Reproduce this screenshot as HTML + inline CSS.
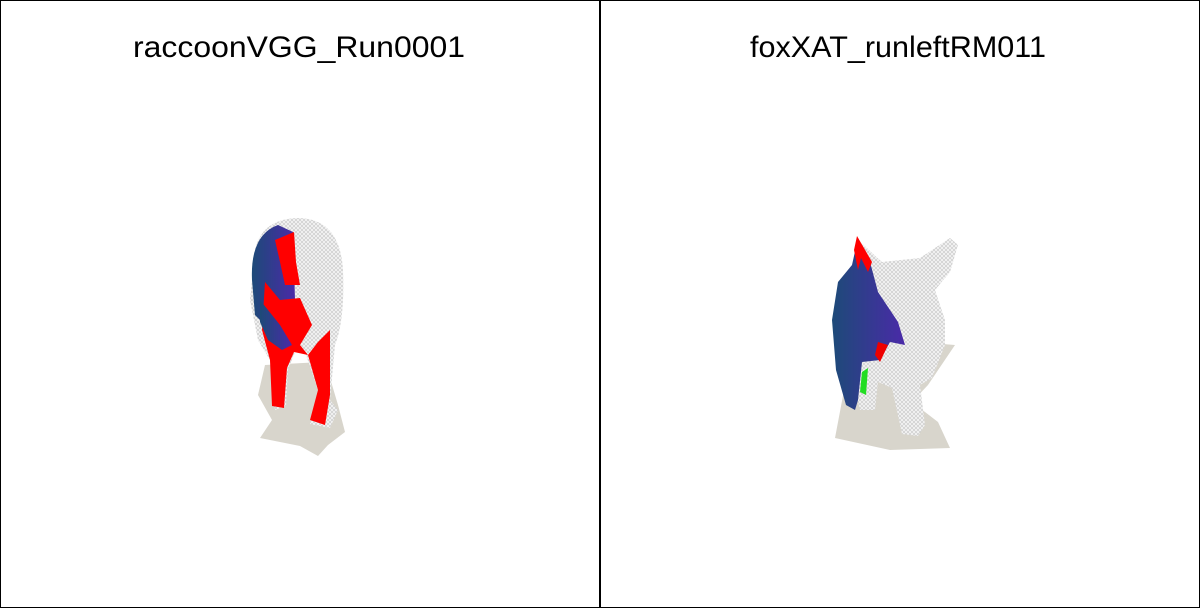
<!DOCTYPE html>
<html><head><meta charset="utf-8"><style>
body{margin:0;background:#fff}
svg{display:block}
text{font-family:"Liberation Sans",sans-serif;font-size:30px;fill:#000}
</style></head><body>
<svg width="1200" height="608" viewBox="0 0 1200 608">
<defs>
<pattern id="mesh" width="4" height="4" patternUnits="userSpaceOnUse"><rect width="4" height="4" fill="#f0f0f0"/><path d="M0 0L4 4M4 0L0 4" stroke="#bbb" stroke-width="0.5"/></pattern>
<linearGradient id="blue" x1="0" x2="1"><stop offset="0" stop-color="#1d4a78"/><stop offset="1" stop-color="#4a2aa8"/></linearGradient>
</defs>
<rect x="0.5" y="0.5" width="1199" height="607" fill="#fff" stroke="#000"/>
<line x1="600" y1="0" x2="600" y2="608" stroke="#000" stroke-width="2"/>
<g>
<text x="133" y="57" textLength="332" lengthAdjust="spacingAndGlyphs">raccoonVGG_Run0001</text>
<path d="M265 365 L258 395 L272 420 L260 438 L300 446 L318 456 L328 445 L345 432 L338 405 L330 378 L322 362Z" fill="#d8d5cc"/>
<path d="M255 250 Q262 218 300 218 Q340 220 343 270 Q345 320 335 345 L330 400 L338 410 L330 428 L310 424 L318 390 L305 352 L295 352 L288 370 L286 406 L275 410 L270 360 L258 340 L250 300Z" fill="url(#mesh)"/>
<path d="M252 280 Q250 235 278 225 L293 232 L295 300 L290 330 L270 330 L255 315Z" fill="url(#blue)"/>
<path d="M275 240 L294 232 L296 262 L300 285 L285 285 L280 262Z" fill="#f00"/>
<path d="M265 282 L280 300 L300 298 L312 325 L300 345 L308 355 L318 342 L330 330 L330 395 L325 425 L310 420 L318 390 L308 355 L294 352 L287 368 L284 408 L272 406 L270 360 L262 330Z" fill="#f00"/>
<path d="M260 300 L268 310 L280 325 L292 345 L282 350 L268 340 L260 322Z" fill="url(#blue)"/>
</g>
<g>
<text x="750" y="57" textLength="296" lengthAdjust="spacingAndGlyphs">foxXAT_runleftRM011</text>
<path d="M845 385 L835 438 L890 450 L950 448 L938 422 L912 402 L928 385 L955 345 L930 343 L900 372Z" fill="#d8d5cc"/>
<path d="M858 240 L882 262 L920 258 L950 238 L958 245 L950 272 L935 290 L945 320 L945 345 L932 378 L920 385 L925 425 L918 436 L902 434 L892 388 L878 382 L875 410 L860 410 L848 360 L850 300Z" fill="url(#mesh)"/>
<path d="M858 238 L870 262 L878 292 L898 322 L905 345 L890 342 L880 360 L862 362 L858 400 L855 410 L846 405 L836 370 L832 320 L838 282 L852 265Z" fill="url(#blue)"/>
<path d="M857 236 L872 262 L868 272 L861 258 L858 270 L854 250Z" fill="#f00"/>
<path d="M878 342 L888 345 L880 362 L875 355Z" fill="#e00"/>
<path d="M862 372 L868 368 L866 395 L860 392Z" fill="#2d2"/>
</g>
</svg>
</body></html>
